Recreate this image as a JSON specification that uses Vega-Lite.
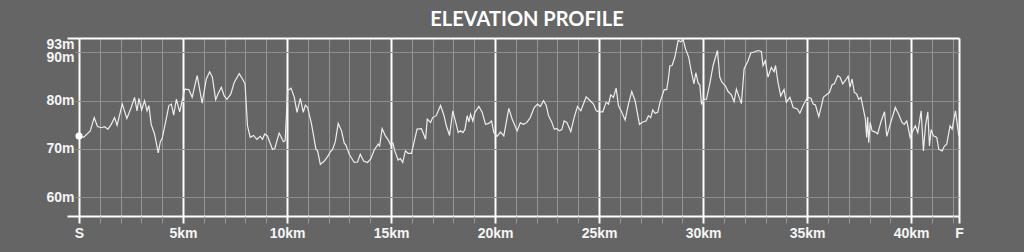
{
  "$schema": "https://vega.github.io/schema/vega-lite/v6.json",
  "autosize": {"type": "none"},
  "padding": {"left": 79, "top": 38, "right": 65, "bottom": 36},
  "width": 880,
  "height": 178,
  "background": "#656565",
  "title": {"text": "ELEVATION PROFILE", "font": "Lato", "fontSize": 20, "fontWeight": "bold", "color": "#ffffff", "anchor": "middle", "baseline": "alphabetic", "offset": 12, "dx": 8, "dy": 21},
  "data": {"values": [
    {"km":0,"elev":72.7},{"km":0.22,"elev":72.4},{"km":0.54,"elev":73.75},{"km":0.73,"elev":76.5},{"km":0.89,"elev":74.65},{"km":1.07,"elev":74.4},{"km":1.23,"elev":74.6},{"km":1.39,"elev":74.1},{"km":1.55,"elev":75.1},{"km":1.71,"elev":76.5},{"km":1.83,"elev":74.9},{"km":2.08,"elev":79.3},{"km":2.3,"elev":76.3},{"km":2.51,"elev":78.6},{"km":2.67,"elev":80.7},{"km":2.79,"elev":77.9},{"km":2.88,"elev":80.5},{"km":3.01,"elev":78.1},{"km":3.15,"elev":80},{"km":3.27,"elev":77.9},{"km":3.36,"elev":79},{"km":3.47,"elev":75.1},{"km":3.63,"elev":73.1},{"km":3.81,"elev":69.2},{"km":3.91,"elev":71.5},{"km":4.0,"elev":72.2},{"km":4.16,"elev":75.5},{"km":4.32,"elev":79},{"km":4.44,"elev":79.3},{"km":4.55,"elev":77},{"km":4.68,"elev":80.3},{"km":4.84,"elev":77.7},{"km":4.96,"elev":80},{"km":5.08,"elev":82.4},{"km":5.28,"elev":82.3},{"km":5.44,"elev":80.7},{"km":5.68,"elev":85.2},{"km":5.92,"elev":79.5},{"km":6.12,"elev":84.5},{"km":6.28,"elev":86},{"km":6.41,"elev":84.9},{"km":6.57,"elev":80.2},{"km":6.68,"elev":81.4},{"km":6.84,"elev":82.8},
    {"km":6.98,"elev":81},{"km":7.11,"elev":80.3},{"km":7.3,"elev":81.4},{"km":7.46,"elev":83.8},{"km":7.7,"elev":85.6},{"km":7.86,"elev":84.5},{"km":7.98,"elev":83.5},{"km":8.1,"elev":74.8},{"km":8.23,"elev":72.4},{"km":8.39,"elev":72.8},{"km":8.55,"elev":72},{"km":8.71,"elev":72.6},{"km":8.82,"elev":72},{"km":8.93,"elev":73.1},{"km":9.06,"elev":72.7},{"km":9.3,"elev":69.9},{"km":9.41,"elev":70.1},{"km":9.62,"elev":73.3},{"km":9.83,"elev":71.5},{"km":9.91,"elev":71.7},{"km":10.03,"elev":82.1},{"km":10.19,"elev":82.6},{"km":10.35,"elev":80.7},{"km":10.48,"elev":77.6},{"km":10.64,"elev":80.5},{"km":10.78,"elev":77.6},{"km":10.88,"elev":79.1},{"km":10.99,"elev":78.6},{"km":11.18,"elev":75.1},{"km":11.39,"elev":69.9},{"km":11.47,"elev":69.6},{"km":11.6,"elev":66.8},{"km":11.79,"elev":67.5},{"km":11.95,"elev":68.4},{"km":12.08,"elev":69.4},{"km":12.19,"elev":69.9},{"km":12.32,"elev":71.5},{"km":12.46,"elev":75.3},{"km":12.62,"elev":73.75},{"km":12.75,"elev":71.2},{"km":12.83,"elev":70.8},{"km":12.99,"elev":68.9},{"km":13.23,"elev":67.2},{"km":13.39,"elev":67.3},{"km":13.52,"elev":68.9},{"km":13.68,"elev":67.5},{"km":13.87,"elev":67.2},{"km":14.03,"elev":68},
    {"km":14.19,"elev":69.8},{"km":14.38,"elev":71},{"km":14.45,"elev":70.6},{"km":14.57,"elev":74.2},{"km":14.73,"elev":72.7},{"km":14.86,"elev":71.9},{"km":14.98,"elev":70.8},{"km":15.09,"elev":71.2},{"km":15.18,"elev":69.6},{"km":15.34,"elev":67.7},{"km":15.45,"elev":68},{"km":15.56,"elev":67.2},{"km":15.69,"elev":69.6},{"km":15.82,"elev":69.1},{"km":15.98,"elev":69.1},{"km":16.1,"elev":71.3},{"km":16.25,"elev":74.1},{"km":16.46,"elev":74.2},{"km":16.66,"elev":72},{"km":16.74,"elev":76.2},{"km":16.9,"elev":75.5},{"km":17.0,"elev":76.5},{"km":17.17,"elev":76.9},{"km":17.38,"elev":79},{"km":17.54,"elev":77},{"km":17.65,"elev":74.9},{"km":17.81,"elev":72.8},{"km":17.97,"elev":77.9},{"km":18.07,"elev":76.2},{"km":18.23,"elev":73.4},{"km":18.34,"elev":73.75},{"km":18.45,"elev":73.4},{"km":18.55,"elev":74},{"km":18.66,"elev":76.9},{"km":18.74,"elev":75.6},{"km":18.82,"elev":77.2},{"km":18.93,"elev":75.8},{"km":19.03,"elev":77.6},{"km":19.22,"elev":78.8},{"km":19.38,"elev":77.6},{"km":19.54,"elev":75.1},{"km":19.7,"elev":75.3},{"km":19.83,"elev":75.8},{"km":19.94,"elev":73.4},{"km":20.1,"elev":72.6},{"km":20.26,"elev":73.5},{"km":20.42,"elev":72.7},{"km":20.66,"elev":78.4},{"km":20.82,"elev":76.2},{"km":21.06,"elev":73.75},
    {"km":21.21,"elev":75.4},{"km":21.37,"elev":75.1},{"km":21.53,"elev":75.5},{"km":21.69,"elev":76.5},{"km":21.88,"elev":78.6},{"km":22.04,"elev":79.3},{"km":22.17,"elev":78.8},{"km":22.33,"elev":80},{"km":22.46,"elev":79},{"km":22.57,"elev":76.9},{"km":22.73,"elev":75.5},{"km":22.84,"elev":74.1},{"km":22.97,"elev":74.2},{"km":23.1,"elev":73.75},{"km":23.21,"elev":74},{"km":23.32,"elev":75.8},{"km":23.45,"elev":75.5},{"km":23.64,"elev":73.6},{"km":23.8,"elev":76.5},{"km":23.96,"elev":78.8},{"km":24.12,"elev":77.9},{"km":24.22,"elev":79},{"km":24.38,"elev":80.8},{"km":24.57,"elev":80},{"km":24.73,"elev":79.3},{"km":24.86,"elev":77.9},{"km":25.02,"elev":77.7},{"km":25.18,"elev":77.7},{"km":25.34,"elev":79.7},{"km":25.45,"elev":79.3},{"km":25.56,"elev":81.2},{"km":25.69,"elev":80.7},{"km":25.82,"elev":82.6},{"km":25.93,"elev":79},{"km":26.09,"elev":77.6},{"km":26.25,"elev":76},{"km":26.41,"elev":79.3},{"km":26.57,"elev":81.9},{"km":26.73,"elev":80},{"km":26.94,"elev":75.1},{"km":27.1,"elev":75.6},{"km":27.26,"elev":75.8},{"km":27.37,"elev":76.9},{"km":27.48,"elev":76.5},{"km":27.58,"elev":78.1},{"km":27.69,"elev":77.4},{"km":27.82,"elev":77.6},{"km":27.93,"elev":79.7},{"km":28.13,"elev":82.3},{"km":28.25,"elev":82.3},
    {"km":28.33,"elev":84.5},{"km":28.4,"elev":87.2},{"km":28.51,"elev":87.3},{"km":28.64,"elev":89},{"km":28.8,"elev":92.5},{"km":28.93,"elev":92.2},{"km":29.04,"elev":92.7},{"km":29.15,"elev":90.8},{"km":29.31,"elev":89},{"km":29.44,"elev":85.9},{"km":29.56,"elev":83.5},{"km":29.65,"elev":85.8},{"km":29.76,"elev":83.7},{"km":29.84,"elev":83.3},{"km":29.92,"elev":79.4},{"km":30.05,"elev":80.3},{"km":30.16,"elev":80.3},{"km":30.32,"elev":83.5},{"km":30.48,"elev":87.3},{"km":30.69,"elev":90.4},{"km":30.8,"elev":84.9},{"km":30.91,"elev":83.8},{"km":31.07,"elev":83.1},{"km":31.2,"elev":81.9},{"km":31.36,"elev":81.2},{"km":31.49,"elev":79.8},{"km":31.6,"elev":82.4},{"km":31.71,"elev":81},{"km":31.84,"elev":79.4},{"km":31.97,"elev":86.6},{"km":32.16,"elev":88.3},{"km":32.29,"elev":89.9},{"km":32.45,"elev":90.1},{"km":32.64,"elev":90.4},{"km":32.8,"elev":90.2},{"km":32.88,"elev":87.3},{"km":32.99,"elev":88.3},{"km":33.12,"elev":84.9},{"km":33.28,"elev":86.9},{"km":33.41,"elev":86},{"km":33.48,"elev":87.3},{"km":33.6,"elev":83.8},{"km":33.73,"elev":81},{"km":33.89,"elev":82.3},{"km":34.0,"elev":79.7},{"km":34.17,"elev":80.7},{"km":34.33,"elev":78.6},{"km":34.53,"elev":78.3},{"km":34.65,"elev":77.4},{"km":34.81,"elev":79},{"km":35.02,"elev":80.7},{"km":35.18,"elev":80.5},{"km":35.29,"elev":79.3},
    {"km":35.4,"elev":79.1},{"km":35.56,"elev":76.7},{"km":35.67,"elev":78.6},{"km":35.78,"elev":80.7},{"km":35.91,"elev":81.2},{"km":36.07,"elev":81.7},{"km":36.2,"elev":83.3},{"km":36.31,"elev":83.5},{"km":36.47,"elev":85.2},{"km":36.58,"elev":84.9},{"km":36.71,"elev":83.5},{"km":36.84,"elev":84.2},{"km":36.97,"elev":85.1},{"km":37.06,"elev":82.8},{"km":37.16,"elev":84.5},{"km":37.27,"elev":81.7},{"km":37.38,"elev":81.4},{"km":37.48,"elev":80.3},{"km":37.59,"elev":80.7},{"km":37.67,"elev":79},{"km":37.8,"elev":76.2},{"km":37.86,"elev":72.4},{"km":37.91,"elev":76.6},{"km":37.96,"elev":71.3},{"km":38.03,"elev":75.5},{"km":38.12,"elev":73.75},{"km":38.28,"elev":73.5},{"km":38.39,"elev":73.1},{"km":38.56,"elev":75.8},{"km":38.72,"elev":77.7},{"km":38.83,"elev":72.6},{"km":39.04,"elev":75.8},{"km":39.24,"elev":78.6},{"km":39.4,"elev":77.2},{"km":39.56,"elev":75.5},{"km":39.67,"elev":75.1},{"km":39.79,"elev":75.8},{"km":39.95,"elev":72.4},{"km":40.08,"elev":73.75},{"km":40.2,"elev":74.8},{"km":40.32,"elev":73.4},{"km":40.48,"elev":77.9},{"km":40.59,"elev":69.6},{"km":40.69,"elev":74.8},{"km":40.8,"elev":77.7},{"km":40.88,"elev":70.6},{"km":40.96,"elev":74},{"km":41.07,"elev":72.7},{"km":41.23,"elev":72.4},{"km":41.33,"elev":69.9},{"km":41.49,"elev":69.6},{"km":41.6,"elev":70.6},{"km":41.71,"elev":71},{"km":41.87,"elev":74.8},{"km":41.97,"elev":74.1},{"km":42.13,"elev":77.9},{"km":42.29,"elev":72.7}
  ]},
  "encoding": {
    "x": {
      "field": "km", "type": "quantitative",
      "scale": {"domain": [0, 42.3], "nice": false, "zero": false},
      "axis": {
        "title": null,
        "values": [0,1,2,3,4,5,6,7,8,9,10,11,12,13,14,15,16,17,18,19,20,21,22,23,24,25,26,27,28,29,30,31,32,33,34,35,36,37,38,39,40,41,42,42.3],
        "domain": false,
        "grid": true,
        "gridColor": {"condition": {"test": "datum.value % 5 === 0 || datum.value > 42.2", "value": "#ffffff"}, "value": "#969696"},
        "gridWidth": {"condition": {"test": "datum.value % 5 === 0 || datum.value > 42.2", "value": 2}, "value": 1},
        "tickColor": {"condition": {"test": "datum.value % 5 === 0 || datum.value > 42.2", "value": "#ffffff"}, "value": "#969696"},
        "tickWidth": {"condition": {"test": "datum.value % 5 === 0 || datum.value > 42.2", "value": 2}, "value": 1},
        "tickSize": 7,
        "labelExpr": "datum.value === 0 ? 'S' : (datum.value > 42.2 ? 'F' : (datum.value % 5 === 0 ? datum.value + 'km' : ''))",
        "labelFont": "Liberation Sans",
        "labelFontSize": 14,
        "labelFontWeight": "bold",
        "labelColor": "#f5f5f5",
        "labelPadding": 3,
        "labelFlush": false,
        "labelOverlap": false,
        "labelBound": false
      }
    },
    "y": {
      "field": "elev", "type": "quantitative",
      "scale": {"domain": [56.1, 93], "nice": false, "zero": false},
      "axis": {
        "title": null,
        "values": [56.1, 60, 70, 80, 90, 93],
        "domain": false,
        "grid": true,
        "gridColor": {"condition": {"test": "datum.value < 57 || datum.value > 92", "value": "#ffffff"}, "value": "#8e8e8e"},
        "gridWidth": {"condition": {"test": "datum.value < 57 || datum.value > 92", "value": 2}, "value": 1},
        "tickColor": {"condition": {"test": "datum.value < 57 || datum.value > 92", "value": "#ffffff"}, "value": "#8e8e8e"},
        "tickWidth": {"condition": {"test": "datum.value < 57 || datum.value > 92", "value": 2}, "value": 1},
        "tickSize": {"condition": {"test": "datum.value < 57 || datum.value > 92", "value": 12}, "value": 4},
        "labelPadding": {"condition": {"test": "datum.value > 92", "value": -7}, "value": 1},
        "labelOffset": {"condition": [{"test": "datum.value > 92", "value": 6}, {"test": "datum.value === 90", "value": 5}], "value": 0},
        "labelExpr": "datum.value < 57 ? '' : datum.value + 'm'",
        "labelFont": "Liberation Sans",
        "labelFontSize": 14,
        "labelFontWeight": "bold",
        "labelColor": "#f5f5f5",
        "labelOverlap": false,
        "labelBound": false
      }
    }
  },
  "layer": [
    {"mark": {"type": "line", "color": "#eeeeee", "strokeWidth": 1.2}},
    {"transform": [{"filter": "datum.km === 0"}], "mark": {"type": "circle", "color": "#ffffff", "opacity": 1, "size": 50}}
  ],
  "config": {"view": {"stroke": null}}
}
